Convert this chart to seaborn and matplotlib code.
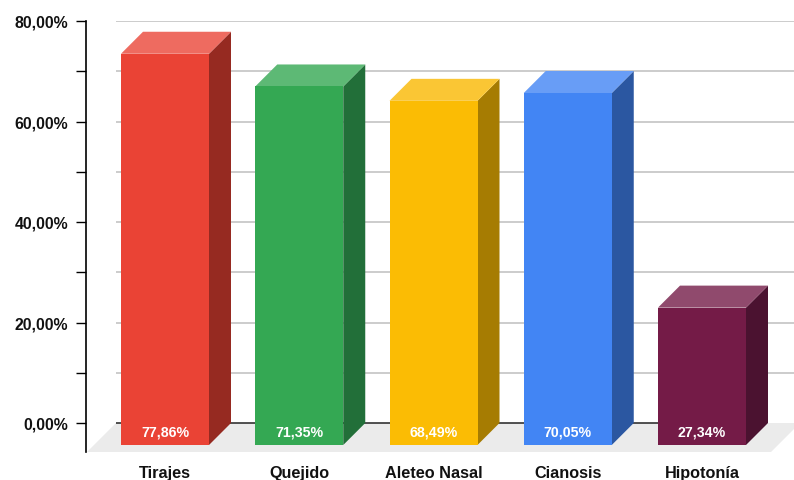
import matplotlib
matplotlib.use("Agg")
import matplotlib.pyplot as plt
import seaborn as sns
import pandas as pd
from matplotlib.patches import Polygon

categories = ["Tirajes", "Quejido", "Aleteo Nasal", "Cianosis", "Hipotonía"]
values = [77.86, 71.35, 68.49, 70.05, 27.34]
value_labels = ["77,86%", "71,35%", "68,49%", "70,05%", "27,34%"]
y_ticks = [0, 10, 20, 30, 40, 50, 60, 70, 80]
y_tick_labels = ["0,00%", "", "20,00%", "", "40,00%", "", "60,00%", "", "80,00%"]

front_colors = ["#EA4335", "#34A853", "#FBBC04", "#4285F4", "#741B47"]
side_colors = ["#962A21", "#226F39", "#A67C02", "#2B57A1", "#4B1230"]
top_colors = ["#EE6B60", "#5DB975", "#FAC634", "#689DF6", "#904A6D"]

sns.set_theme(style="white")
plt.rcParams['font.family'] = ['Liberation Sans', 'DejaVu Sans']

W, H = 794, 481
fig = plt.figure(figsize=(W / 100, H / 100), dpi=100)
ax_l, ax_r, ax_t, ax_b = 86, 794, 22, 453
ax = fig.add_axes([ax_l / W, 1 - ax_b / H, (ax_r - ax_l) / W, (ax_b - ax_t) / H])

# pixel geometry helpers
back_c0 = 187.0
spacing = 134.25
ppx = spacing                 # px per category unit
zero_px = 424.0
ppy = (zero_px - ax_t) / 80.0  # px per percent
xmin = -(back_c0 - ax_l) / ppx
xmax = xmin + (ax_r - ax_l) / ppx
ymin = -(ax_b - zero_px) / ppy
ymax = 80.0

def px_x(p):
    return xmin + (p - ax_l) / ppx

depth = 22.0
dx = depth / ppx
dy = depth / ppy
bw = 88.0 / ppx

df = pd.DataFrame({"cat": categories, "val": values})
sns.barplot(data=df, x="cat", y="val", hue="cat", palette=front_colors,
            width=bw, saturation=1, legend=False, ax=ax, zorder=5)

for i, p in enumerate(ax.patches):
    p.set_x(p.get_x() - dx)
    p.set_y(-dy)
    p.set_edgecolor("none")
    p.set_linewidth(0)

for i, v in enumerate(values):
    x0 = i - bw / 2
    x1 = i + bw / 2
    side = Polygon([(x1 - dx, -dy), (x1, 0), (x1, v), (x1 - dx, v - dy)],
                   closed=True, facecolor=side_colors[i], edgecolor="none", zorder=4)
    ax.add_patch(side)
    top = Polygon([(x0 - dx, v - dy), (x1 - dx, v - dy), (x1, v), (x0, v)],
                  closed=True, facecolor=top_colors[i], edgecolor="none", zorder=4)
    ax.add_patch(top)
    ax.text(i - dx, -dy + (446 - 433) / ppy, value_labels[i], ha="center", va="center",
            color="white", fontweight="bold", fontsize=10.2, zorder=6)

# back wall gridlines
for t in y_ticks[1:]:
    ax.plot([px_x(116), xmax], [t, t], color="#C8C8C8", lw=1.3, zorder=1,
            solid_capstyle="butt")

# floor
floor = Polygon([(px_x(87), ymin), (px_x(116), 0), (px_x(800), 0), (px_x(771), ymin)],
                closed=True, facecolor="#EBEBEB", edgecolor="none", zorder=2)
ax.add_patch(floor)
ax.plot([px_x(116), px_x(767)], [0, 0], color="#333333", lw=1.2, zorder=3,
        solid_capstyle="butt")

ax.set_xlim(xmin, xmax)
ax.set_ylim(ymin, ymax)
ax.set_yticks(y_ticks)
ax.set_yticklabels(y_tick_labels, fontweight="bold", fontsize=11.4, color="#111111")
ax.set_xticks([i - dx for i in range(len(categories))])
ax.set_xticklabels(categories, fontweight="bold", fontsize=11.7, color="#111111")
ax.set_xlabel("")
ax.set_ylabel("")
ax.grid(False)
ax.tick_params(axis="y", left=True, direction="out", length=7, width=1, color="black", pad=6)
ax.tick_params(axis="x", bottom=False, length=0, pad=9.5)
for s in ["top", "right", "bottom"]:
    ax.spines[s].set_visible(False)
ax.spines["left"].set_color("black")
ax.spines["left"].set_linewidth(1.2)
ax.set_facecolor("white")

fig.savefig("out.png", dpi=100, facecolor="white")
